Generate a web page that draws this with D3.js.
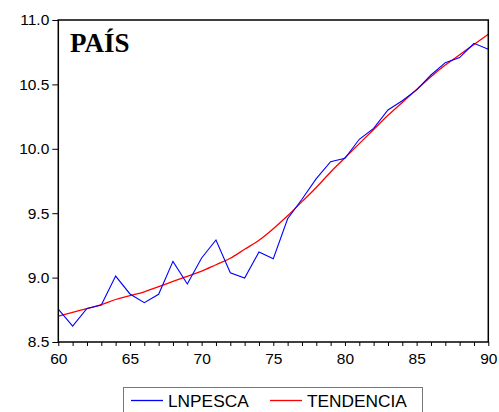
<!DOCTYPE html>
<html><head><meta charset="utf-8">
<script src="https://cdn.jsdelivr.net/npm/d3@7"></script>
<style>body{margin:0;background:#fff}svg{display:block}</style>
</head><body>
<script>
const years = d3.range(60, 91);
const lnpesca = [8.756,8.624,8.76,8.787,9.012,8.873,8.805,8.87,9.126,8.95,9.152,9.292,9.038,8.997,9.199,9.147,9.457,9.608,9.768,9.90,9.926,10.074,10.159,10.301,10.373,10.457,10.573,10.669,10.708,10.819,10.773];
const tendencia = [8.70,8.73,8.76,8.79,8.83,8.86,8.89,8.93,8.97,9.01,9.05,9.10,9.15,9.22,9.29,9.38,9.48,9.59,9.70,9.82,9.93,10.04,10.15,10.26,10.36,10.46,10.56,10.65,10.73,10.81,10.89];
const yTicks = [8.5,9.0,9.5,10.0,10.5,11.0];
const xTicks = [60,65,70,75,80,85,90];
const seriesNames = ["LNPESCA","TENDENCIA"];

const W=499,H=412;
const svg=d3.select("body").append("svg").attr("width",W).attr("height",H);
const L=58.3,R=488.3,T=20,B=342;
const x=d3.scaleLinear().domain([60,90]).range([L,R]);
const y=d3.scaleLinear().domain([8.5,11.0]).range([B,T]);
const font="Arial, 'Liberation Sans', sans-serif";

// x axis
const xa=svg.append("g").attr("transform",`translate(0,${B})`)
 .call(d3.axisBottom(x).tickValues(years).tickSize(4).tickSizeOuter(0)
   .tickFormat(d=>xTicks.includes(d)?d:""));
xa.select(".domain").remove();
xa.selectAll("line").attr("stroke","#000");
xa.selectAll("text").attr("font-family",font).attr("font-size",15.5).attr("fill","#000").attr("dy","0.95em");

// y axis
const ya=svg.append("g").attr("transform",`translate(${L},0)`)
 .call(d3.axisLeft(y).tickValues(yTicks).tickSize(6).tickSizeOuter(0).tickFormat(d3.format(".1f")));
ya.select(".domain").remove();
ya.selectAll("line").attr("stroke","#000");
ya.selectAll("text").attr("font-family",font).attr("font-size",15.5).attr("fill","#000").attr("x",-9);

const line=d3.line().x((d,i)=>x(years[i])).y(d=>y(d));
svg.append("path").datum(tendencia).attr("d",line.curve(d3.curveMonotoneX)).attr("fill","none").attr("stroke","#ff0000").attr("stroke-width",1.3);
svg.append("path").datum(lnpesca).attr("d",d3.line().x((d,i)=>x(years[i])).y(d=>y(d))).attr("fill","none").attr("stroke","#0000ff").attr("stroke-width",1.1);

// frame
svg.append("rect").attr("x",L).attr("y",T).attr("width",R-L).attr("height",B-T)
 .attr("fill","none").attr("stroke","#000").attr("stroke-width",1.5);

// title
svg.append("text").attr("x",70).attr("y",52).text("PAÍS")
 .attr("font-family","'Liberation Serif','Times New Roman',serif").attr("font-weight","bold").attr("font-size",27);

// legend
const lg=svg.append("g");
lg.append("rect").attr("x",123.5).attr("y",387.5).attr("width",299).attr("height",30)
 .attr("fill","#fff").attr("stroke","#777").attr("stroke-width",1);
const colors=["#0000ff","#ff0000"];
const lx=[131,270];
seriesNames.forEach((n,i)=>{
  lg.append("line").attr("x1",lx[i]).attr("x2",lx[i]+32).attr("y1",400.5).attr("y2",400.5).attr("stroke",colors[i]).attr("stroke-width",1.3);
  lg.append("text").attr("x",lx[i]+37).attr("y",407).text(n).attr("font-family",font).attr("font-size",17.3).attr("fill","#000");
});
</script>
</body></html>
